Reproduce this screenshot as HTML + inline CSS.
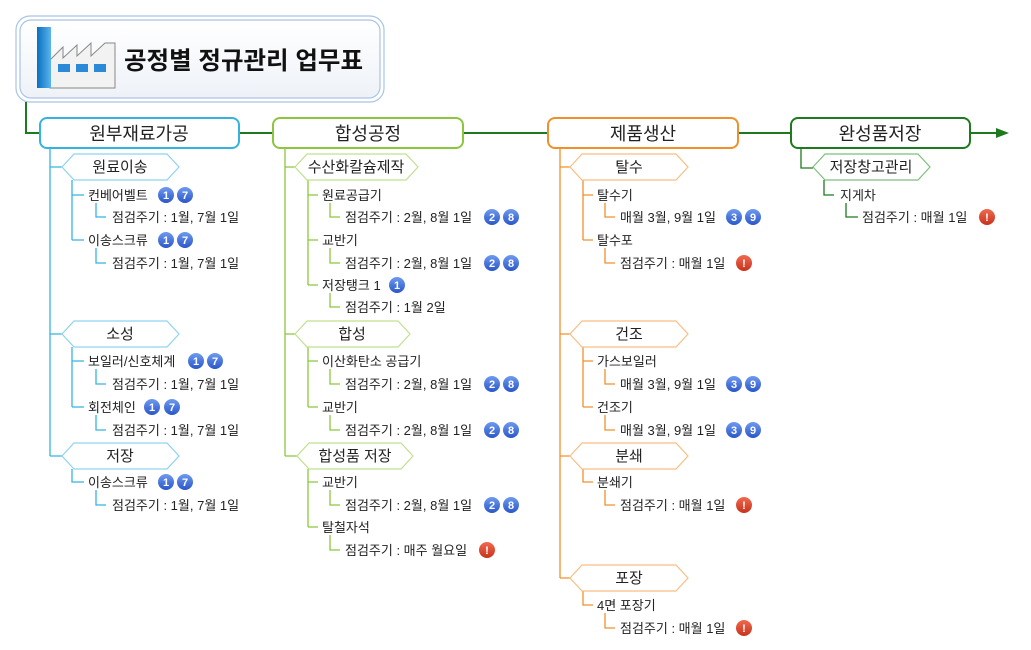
<!DOCTYPE html>
<html><head><meta charset="utf-8"><style>
html,body{margin:0;padding:0;background:#fff;}
svg{display:block;font-family:"Liberation Sans","Noto Sans CJK KR",sans-serif;}
.i{font-size:13px;fill:#222;}
.h{font-size:15px;fill:#222;text-anchor:middle;}
.m{font-size:18px;fill:#222;text-anchor:middle;}
.b{font-size:11px;font-weight:bold;fill:#fff;text-anchor:middle;}
</style></head><body>
<svg width="1031" height="650" viewBox="0 0 1031 650">
<defs>
<linearGradient id="bg" x1="0" y1="0" x2="0" y2="1"><stop offset="0" stop-color="#6f9af0"/><stop offset="1" stop-color="#2a57c8"/></linearGradient>
<linearGradient id="rg" x1="0" y1="0" x2="0" y2="1"><stop offset="0" stop-color="#f06a50"/><stop offset="1" stop-color="#c8321c"/></linearGradient>
<linearGradient id="tb" x1="0" y1="0" x2="0" y2="1"><stop offset="0" stop-color="#ffffff"/><stop offset="1" stop-color="#eef2f8"/></linearGradient>
<linearGradient id="ch" x1="0" y1="0" x2="1" y2="0"><stop offset="0" stop-color="#0a70c0"/><stop offset="1" stop-color="#5ab4ee"/></linearGradient>
</defs>

<!-- title -->
<rect x="16" y="16" width="368" height="86" rx="14" fill="#fff" stroke="#a9c4e6" stroke-width="1.2"/>
<rect x="20" y="20" width="360" height="78" rx="11" fill="url(#tb)" stroke="#a9c4e6" stroke-width="1.2"/>
<polygon points="50,88 50,60 63,47 63,58 77,45 77,56 91,43 91,56 105,43 115,43 115,88" fill="#f2f2f2" stroke="#888" stroke-width="1"/>
<rect x="37" y="27" width="14" height="61" fill="url(#ch)"/>
<rect x="58" y="64" width="12" height="8" fill="#2a8ad8"/>
<rect x="76" y="64" width="12" height="8" fill="#2a8ad8"/>
<rect x="94" y="64" width="12" height="8" fill="#2a8ad8"/>
<text x="124" y="69" style="font-size:24.5px;font-weight:bold;fill:#111">공정별 정규관리 업무표</text>

<!-- main line -->
<path d="M26 102 V133 H40" fill="none" stroke="#1e7a1e" stroke-width="2"/>
<line x1="239" y1="133" x2="273" y2="133" stroke="#1e7a1e" stroke-width="2"/>
<line x1="463" y1="133" x2="548" y2="133" stroke="#1e7a1e" stroke-width="2"/>
<line x1="738" y1="133" x2="791" y2="133" stroke="#1e7a1e" stroke-width="2"/>
<line x1="970" y1="133" x2="998" y2="133" stroke="#1e7a1e" stroke-width="2"/>
<polygon points="996,128 1009,133 996,138" fill="#1e7a1e"/>

<!-- main nodes -->
<rect x="40" y="118" width="199" height="30" rx="7" fill="#fff" stroke="#35b3e0" stroke-width="2"/>
<text class="m" x="139" y="140">원부재료가공</text>
<rect x="273" y="118" width="190" height="30" rx="7" fill="#fff" stroke="#8cc63f" stroke-width="2"/>
<text class="m" x="368" y="140">합성공정</text>
<rect x="548" y="118" width="190" height="30" rx="7" fill="#fff" stroke="#f0902a" stroke-width="2"/>
<text class="m" x="643" y="140">제품생산</text>
<rect x="791" y="118" width="179" height="30" rx="7" fill="#fff" stroke="#1e7a1e" stroke-width="2"/>
<text class="m" x="880" y="140">완성품저장</text>

<!-- COLUMN 1 -->
<g fill="none" stroke="#35b3e0" stroke-width="1.3">
<path d="M50 148 V456 M50 167 H62 M50 334 H62 M50 456 H62"/>
<path d="M72 180 V240 M72 195 H84 M72 240 H84 M96 203 V217 H106 M96 248 V263 H106"/>
<path d="M72 347 V407 M72 361 H84 M72 407 H84 M96 369 V384 H106 M96 415 V430 H106"/>
<path d="M72 469 V482 H84 M96 490 V505 H106"/>
</g>
<g fill="#fff" stroke="#8fd3ef" stroke-width="1.2">
<polygon points="62,167 74,154 167,154 179,167 167,180 74,180"/>
<polygon points="62,334 74,321 167,321 179,334 167,347 74,347"/>
<polygon points="62,456 74,443 167,443 179,456 167,469 74,469"/>
</g>
<text class="h" x="120" y="172">원료이송</text>
<text class="h" x="120" y="339">소성</text>
<text class="h" x="120" y="461">저장</text>
<text class="i" x="88" y="200">컨베어벨트</text>
<text class="i" x="112" y="222">점검주기 : 1월, 7월 1일</text>
<text class="i" x="88" y="245">이송스크류</text>
<text class="i" x="112" y="268">점검주기 : 1월, 7월 1일</text>
<text class="i" x="88" y="366">보일러/신호체계</text>
<text class="i" x="112" y="389">점검주기 : 1월, 7월 1일</text>
<text class="i" x="88" y="412">회전체인</text>
<text class="i" x="112" y="435">점검주기 : 1월, 7월 1일</text>
<text class="i" x="88" y="487">이송스크류</text>
<text class="i" x="112" y="510">점검주기 : 1월, 7월 1일</text>

<!-- COLUMN 2 -->
<g fill="none" stroke="#8cc63f" stroke-width="1.3">
<path d="M285 148 V456 M285 167 H295 M285 334 H295 M285 456 H297"/>
<path d="M308 180 V285 M308 195 H318 M308 240 H318 M308 285 H318 M330 203 V217 H340 M330 248 V263 H340 M330 293 V307 H340"/>
<path d="M308 347 V407 M308 361 H318 M308 407 H318 M330 369 V384 H340 M330 415 V430 H340"/>
<path d="M308 469 V527 M308 482 H318 M308 527 H318 M330 490 V505 H340 M330 535 V550 H340"/>
</g>
<g fill="#fff" stroke="#bfe08f" stroke-width="1.2">
<polygon points="295,167 307,154 406,154 418,167 406,180 307,180"/>
<polygon points="295,334 307,321 398,321 410,334 398,347 307,347"/>
<polygon points="297,456 309,443 401,443 413,456 401,469 309,469"/>
</g>
<text class="h" x="356" y="172">수산화칼슘제작</text>
<text class="h" x="352" y="339">합성</text>
<text class="h" x="355" y="461">합성품 저장</text>
<text class="i" x="322" y="200">원료공급기</text>
<text class="i" x="345" y="222">점검주기 : 2월, 8월 1일</text>
<text class="i" x="322" y="245">교반기</text>
<text class="i" x="345" y="268">점검주기 : 2월, 8월 1일</text>
<text class="i" x="322" y="290">저장탱크 1</text>
<text class="i" x="345" y="312">점검주기 : 1월 2일</text>
<text class="i" x="322" y="366">이산화탄소 공급기</text>
<text class="i" x="345" y="389">점검주기 : 2월, 8월 1일</text>
<text class="i" x="322" y="412">교반기</text>
<text class="i" x="345" y="435">점검주기 : 2월, 8월 1일</text>
<text class="i" x="322" y="487">교반기</text>
<text class="i" x="345" y="510">점검주기 : 2월, 8월 1일</text>
<text class="i" x="322" y="532">탈철자석</text>
<text class="i" x="345" y="555">점검주기 : 매주 월요일</text>

<!-- COLUMN 3 -->
<g fill="none" stroke="#f0902a" stroke-width="1.3">
<path d="M560 148 V578 M560 167 H570 M560 334 H570 M560 456 H570 M560 578 H570"/>
<path d="M583 180 V240 M583 195 H593 M583 240 H593 M605 203 V217 H615 M605 248 V263 H615"/>
<path d="M583 347 V407 M583 361 H593 M583 407 H593 M605 369 V384 H615 M605 415 V430 H615"/>
<path d="M583 469 V482 H593 M605 490 V505 H615"/>
<path d="M583 591 V605 H593 M605 613 V628 H615"/>
</g>
<g fill="#fff" stroke="#f7bf85" stroke-width="1.2">
<polygon points="570,167 582,154 676,154 688,167 676,180 582,180"/>
<polygon points="570,334 582,321 676,321 688,334 676,347 582,347"/>
<polygon points="570,456 582,443 676,443 688,456 676,469 582,469"/>
<polygon points="570,578 582,565 676,565 688,578 676,591 582,591"/>
</g>
<text class="h" x="629" y="172">탈수</text>
<text class="h" x="629" y="339">건조</text>
<text class="h" x="629" y="461">분쇄</text>
<text class="h" x="629" y="583">포장</text>
<text class="i" x="597" y="200">탈수기</text>
<text class="i" x="620" y="222">매월 3월, 9월 1일</text>
<text class="i" x="597" y="245">탈수포</text>
<text class="i" x="620" y="268">점검주기 : 매월 1일</text>
<text class="i" x="597" y="366">가스보일러</text>
<text class="i" x="620" y="389">매월 3월, 9월 1일</text>
<text class="i" x="597" y="412">건조기</text>
<text class="i" x="620" y="435">매월 3월, 9월 1일</text>
<text class="i" x="597" y="487">분쇄기</text>
<text class="i" x="620" y="510">점검주기 : 매월 1일</text>
<text class="i" x="597" y="610">4면 포장기</text>
<text class="i" x="620" y="633">점검주기 : 매월 1일</text>

<!-- COLUMN 4 -->
<g fill="none" stroke="#1e7a1e" stroke-width="1.3">
<path d="M801 148 V168 H813 M824 180 V195 H834 M846 203 V217 H858"/>
</g>
<polygon points="813,167 825,154 918,154 930,167 918,180 825,180" fill="#fff" stroke="#7fbf7f" stroke-width="1.2"/>
<text class="h" x="871" y="172">저장창고관리</text>
<text class="i" x="840" y="200">지게차</text>
<text class="i" x="862" y="222">점검주기 : 매월 1일</text>

<!-- badges -->
<g>
<circle cx="166" cy="195" r="8" fill="url(#bg)"/><text class="b" x="166" y="199">1</text>
<circle cx="185" cy="195" r="8" fill="url(#bg)"/><text class="b" x="185" y="199">7</text>
<circle cx="166" cy="240" r="8" fill="url(#bg)"/><text class="b" x="166" y="244">1</text>
<circle cx="185" cy="240" r="8" fill="url(#bg)"/><text class="b" x="185" y="244">7</text>
<circle cx="196" cy="361" r="8" fill="url(#bg)"/><text class="b" x="196" y="365">1</text>
<circle cx="215" cy="361" r="8" fill="url(#bg)"/><text class="b" x="215" y="365">7</text>
<circle cx="152" cy="407" r="8" fill="url(#bg)"/><text class="b" x="152" y="411">1</text>
<circle cx="172" cy="407" r="8" fill="url(#bg)"/><text class="b" x="172" y="411">7</text>
<circle cx="166" cy="482" r="8" fill="url(#bg)"/><text class="b" x="166" y="486">1</text>
<circle cx="185" cy="482" r="8" fill="url(#bg)"/><text class="b" x="185" y="486">7</text>

<circle cx="492" cy="217" r="8" fill="url(#bg)"/><text class="b" x="492" y="221">2</text>
<circle cx="511" cy="217" r="8" fill="url(#bg)"/><text class="b" x="511" y="221">8</text>
<circle cx="492" cy="263" r="8" fill="url(#bg)"/><text class="b" x="492" y="267">2</text>
<circle cx="511" cy="263" r="8" fill="url(#bg)"/><text class="b" x="511" y="267">8</text>
<circle cx="397" cy="285" r="8" fill="url(#bg)"/><text class="b" x="397" y="289">1</text>
<circle cx="492" cy="384" r="8" fill="url(#bg)"/><text class="b" x="492" y="388">2</text>
<circle cx="511" cy="384" r="8" fill="url(#bg)"/><text class="b" x="511" y="388">8</text>
<circle cx="492" cy="430" r="8" fill="url(#bg)"/><text class="b" x="492" y="434">2</text>
<circle cx="511" cy="430" r="8" fill="url(#bg)"/><text class="b" x="511" y="434">8</text>
<circle cx="492" cy="505" r="8" fill="url(#bg)"/><text class="b" x="492" y="509">2</text>
<circle cx="511" cy="505" r="8" fill="url(#bg)"/><text class="b" x="511" y="509">8</text>
<circle cx="487" cy="550" r="8" fill="url(#rg)"/><text class="b" x="487" y="554">!</text>

<circle cx="734" cy="217" r="8" fill="url(#bg)"/><text class="b" x="734" y="221">3</text>
<circle cx="753" cy="217" r="8" fill="url(#bg)"/><text class="b" x="753" y="221">9</text>
<circle cx="744" cy="263" r="8" fill="url(#rg)"/><text class="b" x="744" y="267">!</text>
<circle cx="734" cy="384" r="8" fill="url(#bg)"/><text class="b" x="734" y="388">3</text>
<circle cx="753" cy="384" r="8" fill="url(#bg)"/><text class="b" x="753" y="388">9</text>
<circle cx="734" cy="430" r="8" fill="url(#bg)"/><text class="b" x="734" y="434">3</text>
<circle cx="753" cy="430" r="8" fill="url(#bg)"/><text class="b" x="753" y="434">9</text>
<circle cx="744" cy="505" r="8" fill="url(#rg)"/><text class="b" x="744" y="509">!</text>
<circle cx="744" cy="628" r="8" fill="url(#rg)"/><text class="b" x="744" y="632">!</text>

<circle cx="987" cy="217" r="8" fill="url(#rg)"/><text class="b" x="987" y="221">!</text>
</g>
</svg>
</body></html>
